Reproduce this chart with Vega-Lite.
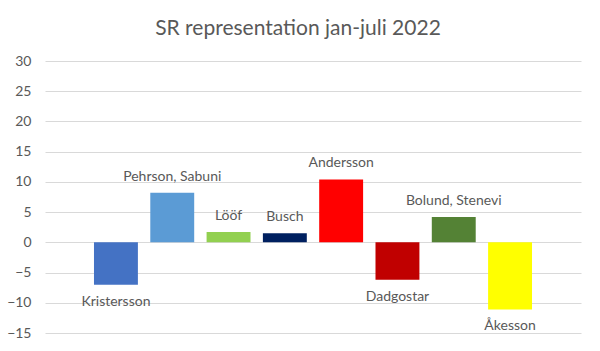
{
  "$schema": "https://vega.github.io/schema/vega-lite/v6.json",
  "autosize": {"type": "none"},
  "width": 536,
  "height": 272,
  "padding": {"left": 45, "top": 61, "right": 19, "bottom": 18},
  "background": "white",
  "title": {
    "text": "SR representation jan-juli 2022",
    "font": "Lato",
    "fontSize": 21,
    "fontWeight": "normal",
    "color": "#595959",
    "anchor": "middle",
    "dx": -15,
    "offset": 15
  },
  "data": {
    "values": [
      {"namn": "Kristersson", "varde": -7.0},
      {"namn": "Pehrson, Sabuni", "varde": 8.2},
      {"namn": "Lööf", "varde": 1.7},
      {"namn": "Busch", "varde": 1.5},
      {"namn": "Andersson", "varde": 10.4},
      {"namn": "Dadgostar", "varde": -6.2},
      {"namn": "Bolund, Stenevi", "varde": 4.2},
      {"namn": "Åkesson", "varde": -11.1}
    ]
  },
  "encoding": {
    "x": {
      "field": "namn",
      "type": "nominal",
      "sort": null,
      "axis": null,
      "scale": {"paddingInner": 0.22, "paddingOuter": 0.87}
    },
    "y": {
      "field": "varde",
      "type": "quantitative",
      "scale": {"domain": [-15, 30], "nice": false, "zero": false},
      "axis": {
        "title": null,
        "values": [-15, -10, -5, 0, 5, 10, 15, 20, 25, 30],
        "domain": false,
        "ticks": false,
        "labelPadding": 14,
        "labelFont": "Lato",
        "labelFontSize": 14,
        "labelColor": "#595959",
        "gridColor": "#D9D9D9",
        "gridWidth": 1
      }
    }
  },
  "layer": [
    {
      "mark": {"type": "bar"},
      "encoding": {
        "color": {
          "field": "namn",
          "type": "nominal",
          "legend": null,
          "scale": {
            "domain": ["Kristersson", "Pehrson, Sabuni", "Lööf", "Busch", "Andersson", "Dadgostar", "Bolund, Stenevi", "Åkesson"],
            "range": ["#4472C4", "#5B9BD5", "#92D050", "#002060", "#FF0000", "#C00000", "#548235", "#FFFF00"]
          }
        }
      }
    },
    {
      "transform": [{"filter": "datum.varde >= 0"}],
      "mark": {"type": "text", "baseline": "alphabetic", "dy": -12, "font": "Lato", "fontSize": 14, "color": "#595959"},
      "encoding": {"text": {"field": "namn"}}
    },
    {
      "transform": [{"filter": "datum.varde < 0"}],
      "mark": {"type": "text", "baseline": "alphabetic", "dy": 21, "font": "Lato", "fontSize": 14, "color": "#595959"},
      "encoding": {"text": {"field": "namn"}}
    }
  ],
  "config": {"view": {"stroke": null}}
}
